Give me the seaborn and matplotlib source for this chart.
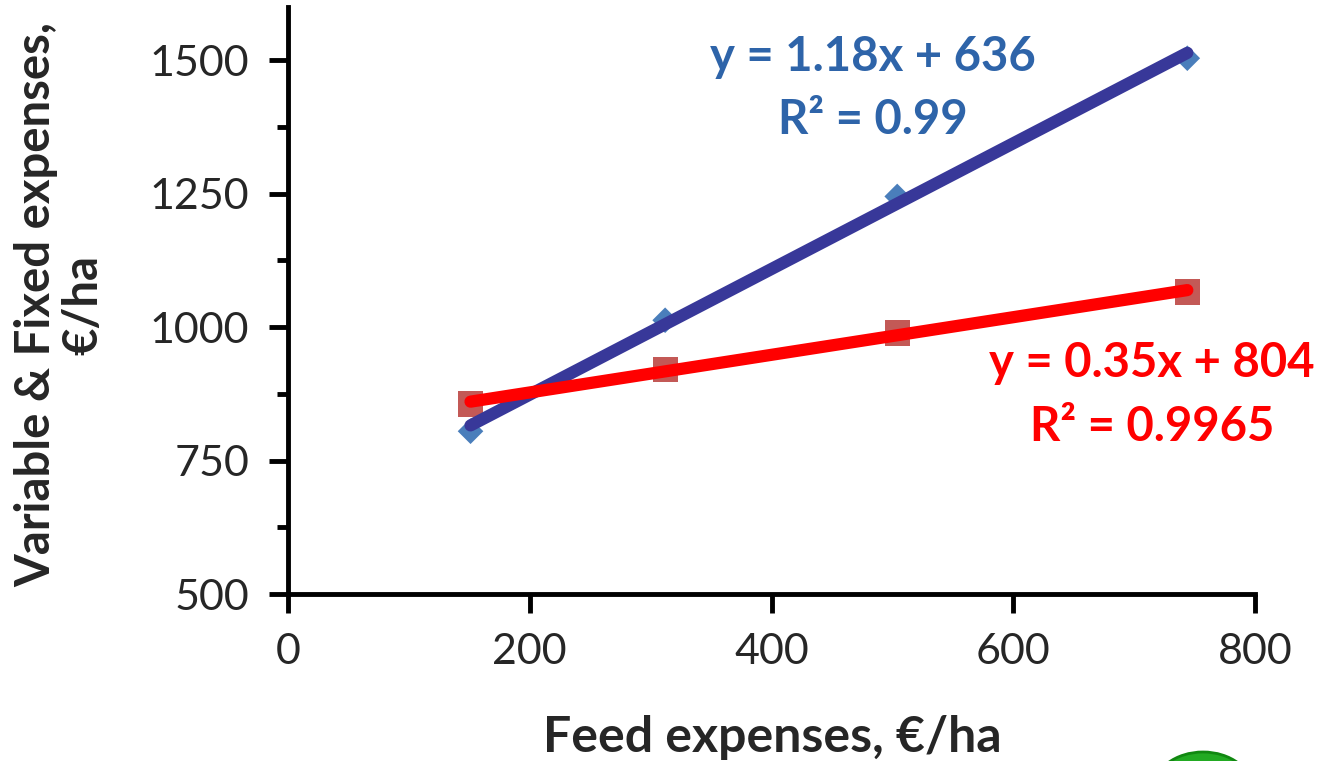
import matplotlib
matplotlib.use("Agg")
import matplotlib.pyplot as plt
import seaborn as sns
import numpy as np
import pandas as pd
from matplotlib.patches import Ellipse
from matplotlib.ticker import MultipleLocator

# Data
feed = [151, 312, 504, 744]
var_fixed_blue = [805, 1013, 1245, 1504]
var_fixed_red = [856, 921, 989, 1066]
eq_blue = ["y = 1.18x + 636", "R² = 0.99"]
eq_red = ["y = 0.35x + 804", "R² = 0.9965"]
x_ticks = [0, 200, 400, 600, 800]
y_ticks = [500, 750, 1000, 1250, 1500]

sns.set_theme(style="white")
plt.rcParams['font.family'] = ['Lato', 'DejaVu Sans']

df_b = pd.DataFrame({"x": feed, "y": var_fixed_blue})
df_r = pd.DataFrame({"x": feed, "y": var_fixed_red})

W, H = 1329, 761
fig = plt.figure(figsize=(W / 100, H / 100), dpi=100)
ax = fig.add_axes([288 / W, 1 - 594 / H, (1255 - 288) / W, (594 - 7) / H])

sns.scatterplot(data=df_b, x="x", y="y", marker="D", s=170, color="#4A7EBB",
                edgecolor="none", ax=ax, zorder=2)
sns.scatterplot(data=df_r, x="x", y="y", marker="s", s=330, color="#C0504D",
                edgecolor="none", alpha=0.95, ax=ax, zorder=2)
sns.regplot(data=df_b, x="x", y="y", scatter=False, ci=None, ax=ax, truncate=True,
            line_kws=dict(color="#383899", lw=8.8, solid_capstyle="round", zorder=3))
sns.regplot(data=df_r, x="x", y="y", scatter=False, ci=None, ax=ax, truncate=True,
            line_kws=dict(color="#FF0000", lw=8.8, solid_capstyle="round", zorder=4))

ax.set_xlim(0, 800)
ax.set_ylim(500, 1600)
ax.set_xticks(x_ticks)
ax.set_yticks(y_ticks)
ax.yaxis.set_minor_locator(MultipleLocator(125))
ax.tick_params(axis="both", which="major", direction="out", length=14, width=3.5,
               color="black", labelsize=31, bottom=True, left=True)
ax.tick_params(axis="y", which="major", pad=14)
ax.tick_params(axis="y", which="minor", direction="out", length=8, width=3.5,
               color="black", left=True)
ax.tick_params(axis="x", pad=14)
for s in ["top", "right"]:
    ax.spines[s].set_visible(False)
for s in ["left", "bottom"]:
    ax.spines[s].set_linewidth(3.5)
    ax.spines[s].set_color("black")
ax.set_xlabel("")
ax.set_ylabel("")

fig.text(772 / W, 1 - 738 / H, "Feed expenses, €/ha", ha="center", va="center",
         fontsize=36, fontweight="bold")
fig.text(60 / W, 1 - 305 / H, "Variable & Fixed expenses,\n€/ha", ha="center",
         va="center", rotation=90, fontsize=34, fontweight="bold", linespacing=1.1)

fig.text(873 / W, 1 - 57 / H, eq_blue[0], ha="center", va="center", fontsize=34,
         fontweight="bold", color="#2E64A9")
fig.text(873 / W, 1 - 120 / H, eq_blue[1], ha="center", va="center", fontsize=34,
         fontweight="bold", color="#2E64A9")
fig.text(1152 / W, 1 - 363 / H, eq_red[0], ha="center", va="center", fontsize=34,
         fontweight="bold", color="#FF0000")
fig.text(1152 / W, 1 - 427 / H, eq_red[1], ha="center", va="center", fontsize=34,
         fontweight="bold", color="#FF0000")

# partial green shape at bottom right
ell = Ellipse((1203 / W, 1 - 790 / H), 100 / W, 76 / H, transform=fig.transFigure,
              facecolor="#22AA22", edgecolor="#118811", lw=2)
fig.patches.append(ell)

fig.savefig("out.png", dpi=100)
